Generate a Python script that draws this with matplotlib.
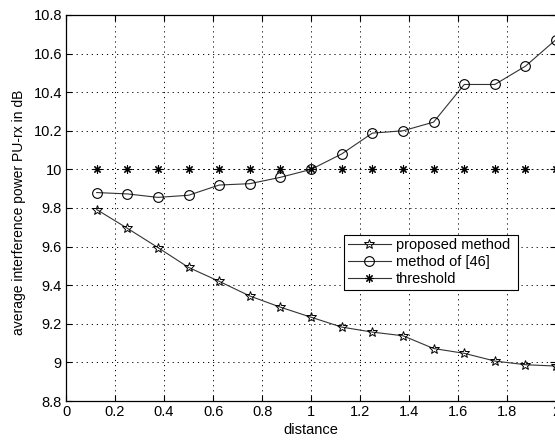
import matplotlib
matplotlib.use("Agg")
import matplotlib.pyplot as plt
from matplotlib.lines import Line2D

plt.rcParams["font.family"] = ["Liberation Sans", "DejaVu Sans"]

distance = [0.125, 0.25, 0.375, 0.5, 0.625, 0.75, 0.875, 1.0,
            1.125, 1.25, 1.375, 1.5, 1.625, 1.75, 1.875, 2.0]
proposed = [9.792, 9.695, 9.595, 9.492, 9.420, 9.344, 9.286, 9.234,
            9.183, 9.157, 9.138, 9.072, 9.047, 9.007, 8.988, 8.981]
method46 = [9.880, 9.873, 9.855, 9.866, 9.919, 9.926, 9.959, 10.0,
            10.080, 10.188, 10.200, 10.245, 10.440, 10.440, 10.535, 10.673]
threshold = [10.0] * len(distance)

labels = ["proposed method", "method of [46]", "threshold"]
xticks = [0, 0.2, 0.4, 0.6, 0.8, 1, 1.2, 1.4, 1.6, 1.8, 2]
xticklabels = ["0", "0.2", "0.4", "0.6", "0.8", "1", "1.2", "1.4", "1.6", "1.8", "2"]
yticks = [8.8, 9, 9.2, 9.4, 9.6, 9.8, 10, 10.2, 10.4, 10.6, 10.8]
yticklabels = ["8.8", "9", "9.2", "9.4", "9.6", "9.8", "10", "10.2", "10.4", "10.6", "10.8"]

fig = plt.figure(figsize=(5.55, 4.41), dpi=100)
ax = fig.add_axes([0.119, 0.0907, 0.883, 0.8753])

line_col = "#333333"
asterisk = (8, 2, 0)

star_style = dict(marker="*", ms=7.5, mfc="none", mec="k", mew=0.7)
circ_style = dict(marker="o", ms=7, mfc="none", mec="k", mew=0.8)
ast_style = dict(marker=asterisk, ms=6, mec="k", mew=0.8)

ax.plot(distance, proposed, color=line_col, lw=0.8, **star_style)
ax.plot(distance, method46, color=line_col, lw=0.8, **circ_style)
ax.plot(distance, threshold, color="k", lw=0.7, ls=(0, (1.2, 4)), **ast_style)

ax.set_xlim(0, 2)
ax.set_ylim(8.8, 10.8)
ax.set_xticks(xticks)
ax.set_xticklabels(xticklabels)
ax.set_yticks(yticks)
ax.set_yticklabels(yticklabels)
ax.tick_params(direction="in", length=4, width=0.8, top=True, right=True,
               labelsize=10.5, pad=3)
for s in ax.spines.values():
    s.set_linewidth(0.9)

ax.grid(True, color="k", lw=0.7, ls=(0, (1.2, 4)))
ax.set_axisbelow(True)

ax.set_xlabel("distance", fontsize=10.5, labelpad=3)
ax.set_ylabel("average interference power PU-rx in dB", fontsize=10)
ax.yaxis.set_label_coords(-0.082, 0.488)

handles = [
    Line2D([], [], color=line_col, lw=0.8, **star_style),
    Line2D([], [], color=line_col, lw=0.8, **circ_style),
    Line2D([], [], color=line_col, lw=0.8, **ast_style),
]
leg = ax.legend(handles, labels, loc="lower left",
                bbox_to_anchor=(0.567, 0.288, 0.355, 0.176),
                mode="expand", fontsize=10.5, frameon=True, fancybox=False,
                edgecolor="k", framealpha=1, borderpad=0.25, labelspacing=0.2,
                handlelength=3.0, handletextpad=0.3, borderaxespad=0)
leg.get_frame().set_linewidth(0.8)

fig.savefig("out.png", dpi=100, facecolor="white")
